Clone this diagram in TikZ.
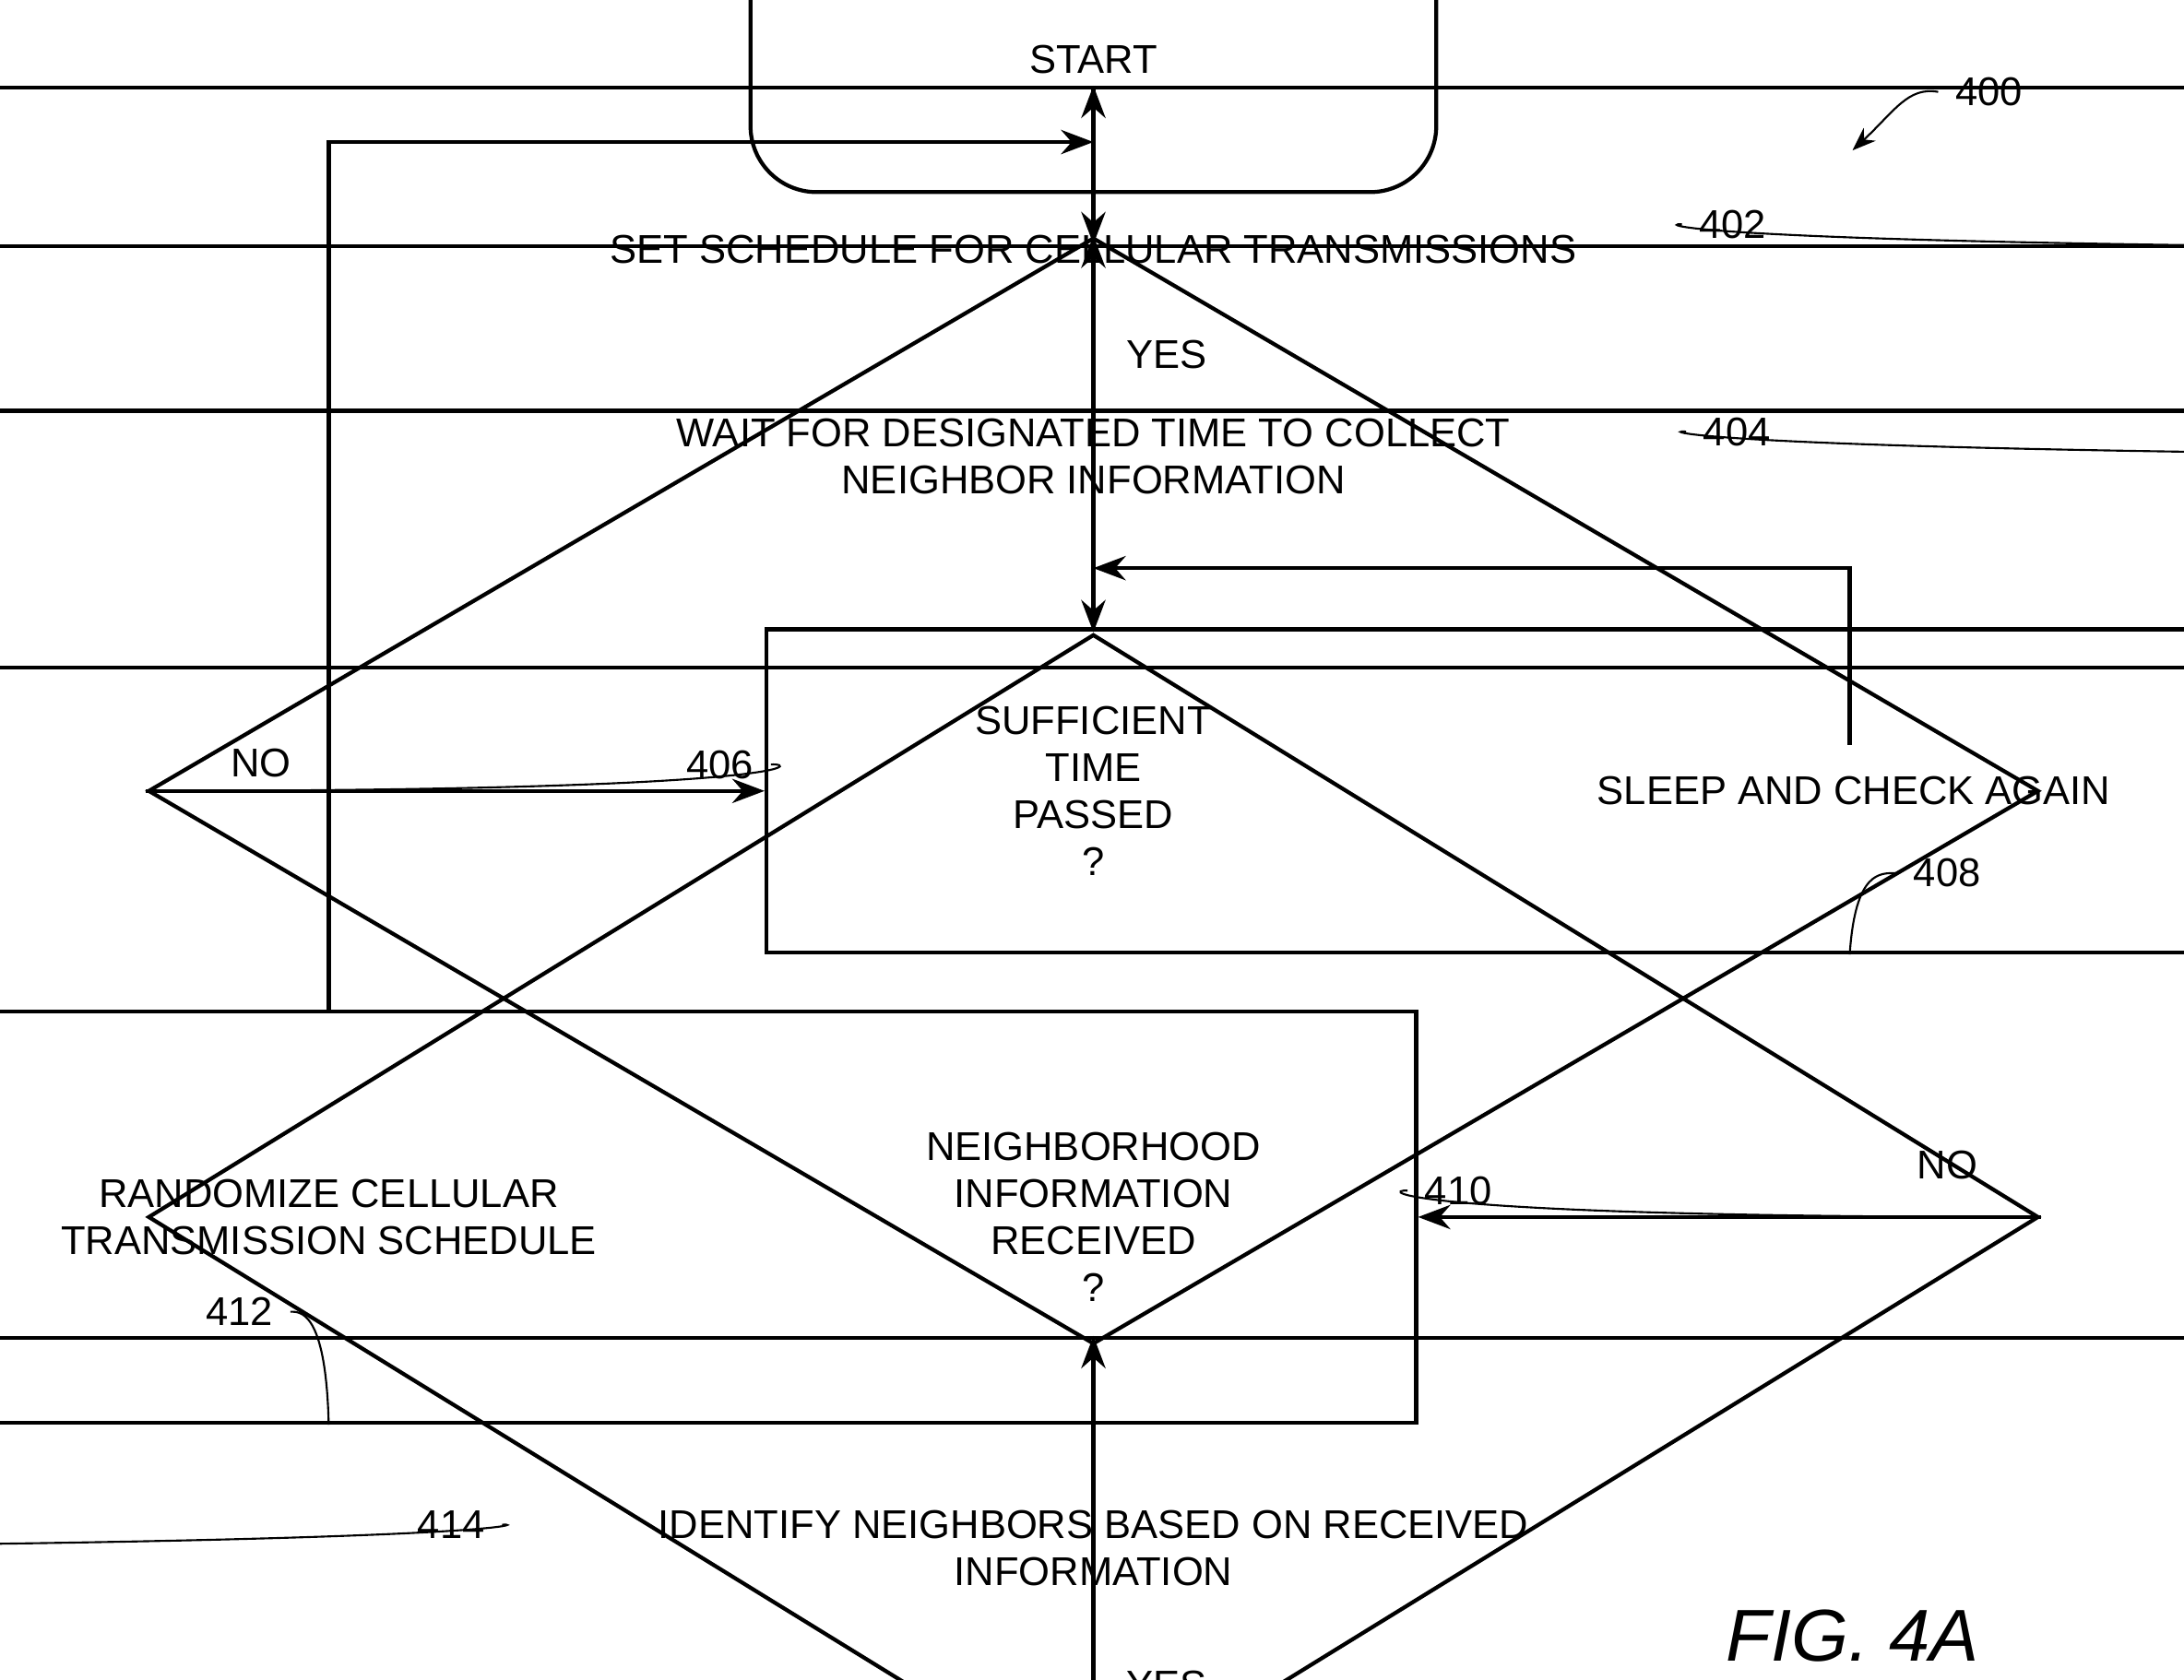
\documentclass[tikz,border=0pt]{standalone}
\usepackage{fontspec}
\setmainfont{Liberation Sans}
\usetikzlibrary{positioning}
\usetikzlibrary{arrows.meta}
\usetikzlibrary{shapes}

\begin{document}
\begin{tikzpicture}[%
  x=0.01cm, y=-0.01cm,
  >={Stealth[scale=1.0]},
  font=\fontsize{8.2}{9.6}\selectfont,
  proc/.style={draw, thick, rectangle, align=center, inner sep=0pt},
  decide/.style={draw, thick, diamond, align=center, inner sep=0pt},
  flow/.style={thick, ->},
  ref/.style={thin},
]

  \useasboundingbox (0,0) rectangle (1568,1206);

  \node[draw, thick, rounded corners=13.5, minimum width=140, minimum height=54] (start) at (785,43) {START};
  \node[proc, minimum width=782, minimum height=66] (s402) at (785,179) {SET SCHEDULE FOR CELLULAR TRANSMISSIONS};
  \node[proc, minimum width=782, minimum height=86] (s404) at (785,328) {WAIT FOR DESIGNATED TIME TO COLLECT\\NEIGHBOR INFORMATION};
  \node[decide, minimum width=386, minimum height=226] (d406) at (785,568) {SUFFICIENT\\TIME\\PASSED\\?};
  \node[proc, minimum width=444, minimum height=66] (s408) at (1331,568) {SLEEP AND CHECK AGAIN};
  \node[decide, minimum width=386, minimum height=238] (d410) at (785,874) {NEIGHBORHOOD\\INFORMATION\\RECEIVED\\?};
  \node[proc, minimum width=444, minimum height=84] (s412) at (236,874) {RANDOMIZE CELLULAR\\TRANSMISSION SCHEDULE};
  \node[proc, minimum width=782, minimum height=86] (s414) at (785,1112) {IDENTIFY NEIGHBORS BASED ON RECEIVED\\INFORMATION};

  \coordinate (top) at (785,102);
  \coordinate (mid) at (785,408);
  \coordinate (up408) at (1328,535);

  \draw[flow] (start) -- (s402);
  \draw[flow] (s402) -- (s404);
  \draw[flow] (s404) -- (d406);
  \draw[flow] (d406) -- node[pos=0.1, above right=-1pt and 1pt] {NO} (s408);
  \draw[flow] (up408) |- (mid);
  \draw[flow] (d406) -- node[pos=0.3, right=3pt] {YES} (d410);
  \draw[flow] (d410) -- node[pos=0.15, above=4pt] {NO} (s412);
  \draw[flow] (s412) |- (top);
  \draw[flow] (d410) -- node[pos=0.25, right=3pt] {YES} (s414);

  % reference numerals
  \node (n400) at (1428,66) {400};
  \node (n402) at (1244,161) {402};
  \node (n404) at (1247,310) {404};
  \node (n406) at (517,549) {406};
  \node (n408) at (1398,627) {408};
  \node (n410) at (1047,855) {410};
  \node (n412) at (172,942) {412};
  \node (n414) at (324,1095) {414};

  \draw[ref, ->] (n400.west) .. controls (1370,62) and (1360,80) .. (1330,108);
  \draw[ref] (s402.east) .. controls (1195,180) and (1190,160) .. (n402.west);
  \draw[ref] (s404.east) .. controls (1198,328) and (1192,308) .. (n404.west);
  \draw[ref] (d406.west) .. controls (570,568) and (575,548) .. (n406.east);
  \draw[ref] (s408.south -| up408) .. controls (1332,625) and (1350,627) .. (n408.west);
  \draw[ref] (s412.south) .. controls (234,940) and (215,942) .. (n412.east);
  \draw[ref] (d410.east) .. controls (998,874) and (992,854) .. (n410.west);
  \draw[ref] (s414.west) .. controls (372,1112) and (378,1093) .. (n414.east);

  \node[font=\fontsize{15}{17}\selectfont\itshape] (fig) at (1330,1175) {FIG. 4A};

\end{tikzpicture}
\end{document}
